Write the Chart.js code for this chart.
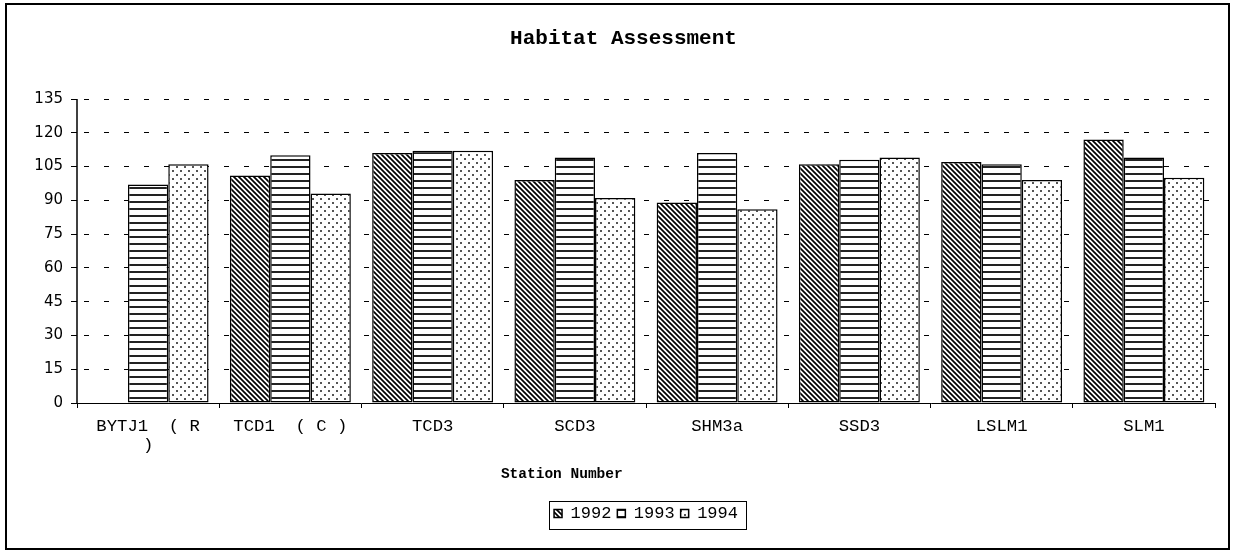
<!DOCTYPE html>
<html>
<head>
<meta charset="utf-8">
<title>Habitat Assessment</title>
<script src="https://cdn.jsdelivr.net/npm/chart.js@4.4.1/dist/chart.umd.min.js"></script>
<style>
  html, body { margin: 0; padding: 0; background: #fff; }
  #frame {
    position: absolute; left: 5px; top: 3px;
    width: 1221px; height: 543px;
    border: 2px solid #000; background: #fff;
  }
  #chart { display: block; }
</style>
</head>
<body>
<div id="frame"><canvas id="chart" width="1221" height="543"></canvas></div>
<script>
// Station labels (the first one wraps onto a second line)
const stations = [['BYTJ1  ( R', ')'], 'TCD1  ( C )', 'TCD3', 'SCD3', 'SHM3a', 'SSD3', 'LSLM1', 'SLM1'];
const years = ['1992', '1993', '1994'];
// Habitat assessment scores per survey year
const scores1992 = [null, 101, 111, 99, 89, 106, 107, 117];
const scores1993 = [97, 110, 112, 109, 111, 108, 106, 109];
const scores1994 = [106, 93, 112, 91, 86, 109, 99, 100];
const yTickValues = [0, 15, 30, 45, 60, 75, 90, 105, 120, 135];
const chartTitle = 'Habitat Assessment';
const xAxisTitle = 'Station Number';

// Monochrome fill patterns: diagonal hatch, horizontal stripes, dots
function makePattern(kind) {
  const c = document.createElement('canvas');
  const g = c.getContext('2d');
  if (kind === 'hatch') {
    c.width = 5; c.height = 5;
    g.fillStyle = '#fff'; g.fillRect(0, 0, 5, 5);
    g.strokeStyle = '#000'; g.lineWidth = 1.7;
    g.beginPath();
    g.moveTo(-1, -1); g.lineTo(6, 6);
    g.moveTo(-1, 4); g.lineTo(1, 6);
    g.moveTo(4, -1); g.lineTo(6, 1);
    g.stroke();
  } else if (kind === 'stripes') {
    c.width = 8; c.height = 7;
    g.fillStyle = '#fff'; g.fillRect(0, 0, 8, 7);
    g.fillStyle = '#222'; g.fillRect(0, 0, 8, 2);
  } else {
    c.width = 8; c.height = 8;
    g.fillStyle = '#fff'; g.fillRect(0, 0, 8, 8);
    g.fillStyle = '#555';
    g.fillRect(1, 1, 2, 2);
    g.fillRect(5, 5, 2, 2);
  }
  return g.createPattern(c, 'repeat');
}

const fills = [makePattern('hatch'), makePattern('stripes'), makePattern('dots')];
const series = [scores1992, scores1993, scores1994];

// Solid value axis, x-axis caption and the frame around the legend
const axisCaptionLegendFrame = {
  id: 'axisCaptionLegendFrame',
  afterDraw(chart) {
    const { ctx, chartArea, legend } = chart;
    ctx.save();
    ctx.strokeStyle = '#000';
    ctx.lineWidth = 1.5;
    ctx.setLineDash([]);
    ctx.beginPath();
    ctx.moveTo(chartArea.left, chartArea.top);
    ctx.lineTo(chartArea.left, chartArea.bottom);
    ctx.stroke();

    ctx.lineWidth = 1;
    ctx.fillStyle = '#000';
    ctx.font = 'bold 14.5px "Liberation Mono"';
    ctx.textAlign = 'center';
    ctx.textBaseline = 'middle';
    ctx.fillText(xAxisTitle, chartArea.left + chartArea.width * 0.426, chartArea.bottom + 71);

    const hb = legend.legendHitBoxes;
    if (hb && hb.length) {
      const left = Math.min(...hb.map(b => b.left)) - 5;
      const right = Math.max(...hb.map(b => b.left + b.width)) + 8;
      const top = Math.min(...hb.map(b => b.top)) - 4;
      const bottom = Math.max(...hb.map(b => b.top + b.height)) + 7;
      ctx.strokeRect(Math.round(left) + 0.5, Math.round(top) + 0.5, Math.round(right - left), Math.round(bottom - top));
    }
    ctx.restore();
  }
};

Chart.defaults.color = '#000';
Chart.defaults.font.family = '"Liberation Mono", monospace';

new Chart(document.getElementById('chart'), {
  type: 'bar',
  data: {
    labels: stations,
    datasets: years.map((y, i) => ({
      label: y,
      data: series[i],
      backgroundColor: fills[i],
      borderColor: '#000',
      borderWidth: 1.5,
      borderSkipped: false,
      categoryPercentage: 0.85,
      barPercentage: 1.0
    }))
  },
  options: {
    responsive: false,
    animation: false,
    devicePixelRatio: 1,
    layout: { padding: { left: 25, right: 13, top: 0, bottom: 16 } },
    plugins: {
      title: {
        display: true,
        text: chartTitle,
        color: '#000',
        font: { family: '"Liberation Mono", monospace', size: 21, weight: 'bold' },
        padding: { top: 21, bottom: 47.8 }
      },
      legend: {
        display: true,
        position: 'bottom',
        fullSize: false,
        labels: {
          boxWidth: 8,
          boxHeight: 8,
          padding: 6,
          color: '#000',
          font: { family: '"Liberation Mono", monospace', size: 17 }
        }
      },
      tooltip: { enabled: false }
    },
    scales: {
      x: {
        grid: {
          display: true,
          offset: true,
          drawOnChartArea: false,
          drawTicks: true,
          tickLength: 5,
          color: '#000',
          tickColor: '#000'
        },
        border: { display: true, color: '#000', width: 1 },
        ticks: {
          autoSkip: false,
          maxRotation: 0,
          padding: 9,
          color: '#000',
          font: { family: '"Liberation Mono", monospace', size: 17.3, lineHeight: 1.1 }
        },
        afterFit(scale) { scale.height = 96; }
      },
      y: {
        min: 0,
        max: 135,
        afterBuildTicks(scale) { scale.ticks = yTickValues.map(v => ({ value: v })); },
        grid: {
          color: '#000',
          lineWidth: 1,
          drawTicks: true,
          tickLength: 6,
          tickColor: '#000',
          tickBorderDash: []
        },
        border: { display: false, color: '#000', width: 1, dash: [5, 15], dashOffset: -7 },
        ticks: {
          padding: 8,
          color: '#000',
          font: { family: '"DejaVu Sans", sans-serif', size: 15 }
        },
        afterFit(scale) { scale.width = 45; }
      }
    }
  },
  plugins: [axisCaptionLegendFrame]
});
</script>
</body>
</html>
